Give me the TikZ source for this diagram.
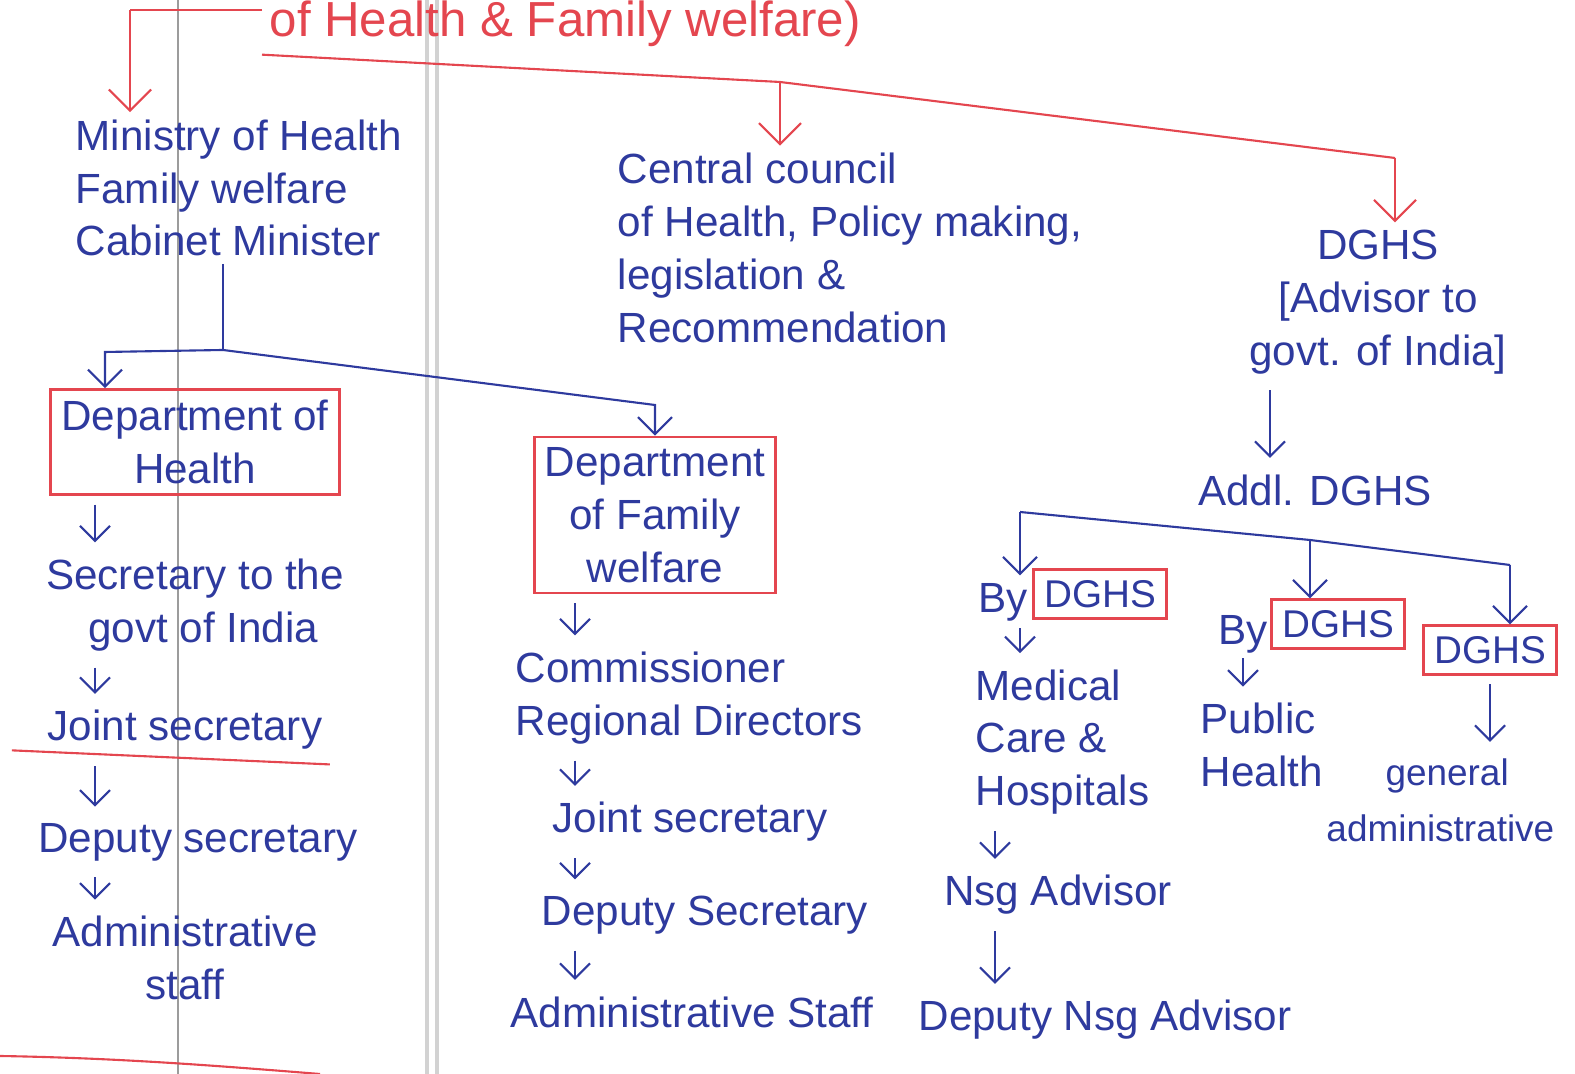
\documentclass[tikz,border=0pt]{standalone}
\usepackage{fontspec}
\setmainfont{Liberation Sans}
\usepackage{tikz}
\usetikzlibrary{arrows.meta,positioning,calc}
\definecolor{inkblue}{HTML}{2E3A9E}
\definecolor{inkred}{HTML}{E4464F}
\definecolor{margingrey}{HTML}{9C9C9C}
\tikzset{
  posttext/.style={text=inkblue,font=\fontsize{12}{15}\selectfont,align=left,inner sep=2pt},
  postbox/.style={posttext,draw=inkred,thick,align=center,inner sep=3pt},
  inkline/.style={draw=inkblue,semithick},
  stepdown/.style={-{Straight Barb[length=1.5mm]},draw=inkblue,semithick,shorten <=2.5pt,shorten >=2.5pt},
  branchdown/.style={-{Straight Barb[length=1.7mm]},draw=inkblue,semithick},
  redline/.style={draw=inkred,semithick},
  redarrow/.style={-{Straight Barb[length=2.1mm]},draw=inkred,semithick}
}

\begin{document}
\begin{tikzpicture}[x=0.01cm,y=-0.01cm]
  \useasboundingbox (0,0) rectangle (1575,1074);
  % notebook margin lines
  \draw[margingrey,line width=0.8pt] (178,0) -- (178,1074);
  \draw[margingrey!45,line width=1.4pt] (427,0) -- (427,1074);
  \draw[margingrey!45,line width=1.4pt] (437,0) -- (437,1074);

  % ministry level
  \node[posttext,text=inkred,font=\fontsize{14}{16}\selectfont,anchor=west] (title) at (262,24) {of Health \& Family welfare)};
  \node[posttext,anchor=west] (minister) at (68,188) {Ministry of Health\\Family welfare\\Cabinet Minister};
  \node[posttext,anchor=west] (council) at (610,248) {Central council\\of Health, Policy making,\\legislation \&\\Recommendation};
  \node[posttext,align=center] (dghs) at (1378,302) {DGHS\\{[}Advisor to\\govt. of India{]}};

  \coordinate (tleft) at (130,10);
  \coordinate (csplit) at (780,82);
  \coordinate (tright) at (1395,158);
  \draw[redline] (title.west |- tleft) -- (tleft);
  \draw[redarrow] (tleft) -- (tleft |- minister.north);
  \draw[redline] (title.south west) -- (csplit) -- (tright);
  \draw[redarrow] (csplit) -- (csplit |- council.north);
  \draw[redarrow] (tright) -- (tright |- dghs.north);

  % departments
  \node[postbox] (dh) at (195,442) {Department of\\Health};
  \node[postbox] (dfw) at (655,515) {Department\\of Family\\welfare};

  \coordinate (msplit) at (223,350);
  \coordinate (dhturn) at (105,352);
  \coordinate (dfwturn) at (655,405);
  \draw[inkline] (minister.south -| msplit) -- (msplit);
  \draw[branchdown] (msplit) -- (dhturn) -- (dhturn |- dh.north);
  \draw[branchdown] (msplit) -- (dfwturn) -- (dfwturn |- dfw.north);

  % department of health
  \coordinate (lcol) at (95,0);
  \node[posttext] (secgov) at (195,605) {Secretary to the\\\hspace*{1em}govt of India};
  \node[posttext] (ljoint) at (185,730) {Joint secretary};
  \node[posttext] (ldeputy) at (198,842) {Deputy secretary};
  \node[posttext] (ladmin) at (185,958) {Administrative\\\hspace*{2.2em}staff};
  \draw[redline] ([xshift=-8pt,yshift=2pt]ljoint.south west) -- ([yshift=-2pt]ljoint.south east);
  \draw[stepdown] (dh.south -| lcol) -- (secgov.north -| lcol);
  \draw[stepdown] (secgov.south -| lcol) -- (ljoint.north -| lcol);
  \draw[stepdown] (ljoint.south -| lcol) -- (ldeputy.north -| lcol);
  \draw[stepdown] (ldeputy.south -| lcol) -- (ladmin.north -| lcol);

  % department of family welfare
  \coordinate (mcol) at (575,0);
  \node[posttext,anchor=west] (commiss) at (508,698) {Commissioner\\Regional Directors};
  \node[posttext] (mjoint) at (690,822) {Joint secretary};
  \node[posttext] (mdeputy) at (705,915) {Deputy Secretary};
  \node[posttext] (madmin) at (692,1012) {Administrative Staff};
  \draw[stepdown] (dfw.south -| mcol) -- (commiss.north -| mcol);
  \draw[stepdown] (commiss.south -| mcol) -- (mjoint.north -| mcol);
  \draw[stepdown] (mjoint.south -| mcol) -- (mdeputy.north -| mcol);
  \draw[stepdown] (mdeputy.south -| mcol) -- (madmin.north -| mcol);

  % DGHS
  \coordinate (dgcol) at (1270,0);
  \node[posttext] (addl) at (1315,490) {Addl. DGHS};
  \draw[stepdown] (dghs.south -| dgcol) -- (addl.north -| dgcol);

  \coordinate (bleft) at (1020,512);
  \coordinate (bmid) at (1310,540);
  \coordinate (bright) at (1510,565);
  \draw[inkline] (bleft) -- (bmid) -- (bright);

  \node[posttext] (byA) at (1003,602) {By};
  \node[postbox,font=\fontsize{11}{13}\selectfont] (dgA) at (1100,594) {DGHS};
  \node[posttext] (byB) at (1243,634) {By};
  \node[postbox,font=\fontsize{11}{13}\selectfont] (dgB) at (1338,624) {DGHS};
  \node[postbox,font=\fontsize{11}{13}\selectfont] (dgC) at (1490,650) {DGHS};
  \draw[branchdown] (bleft) -- (bleft |- byA.north);
  \draw[branchdown] (bmid) -- (bmid |- dgB.north);
  \draw[branchdown] (bright) -- (bright |- dgC.north);

  \node[posttext,anchor=west] (medcare) at (968,742) {Medical\\Care \&\\Hospitals};
  \node[posttext,anchor=west] (pubhealth) at (1193,745) {Public\\Health};
  \node[posttext,font=\fontsize{10.5}{16}\selectfont,anchor=east] (genadmin) at (1562,800) {\hspace*{1.6em}general\\administrative};
  \draw[stepdown] (dgA.south -| bleft) -- (medcare.north -| bleft);
  \draw[stepdown] (dgB.south -| byB) -- (pubhealth.north -| byB);
  \draw[stepdown] (dgC.south -| dgC) -- (genadmin.north -| dgC);

  \coordinate (rcol) at (995,0);
  \node[posttext] (nsg) at (1058,895) {Nsg Advisor};
  \node[posttext] (dnsg) at (1105,1020) {Deputy Nsg Advisor};
  \draw[stepdown] (medcare.south -| rcol) -- (nsg.north -| rcol);
  \draw[stepdown] (nsg.south -| rcol) -- (dnsg.north -| rcol);

  % page ruling at the foot
  \draw[redline] (0,1056) .. controls (120,1058) and (220,1066) .. (320,1074);
\end{tikzpicture}
\end{document}
